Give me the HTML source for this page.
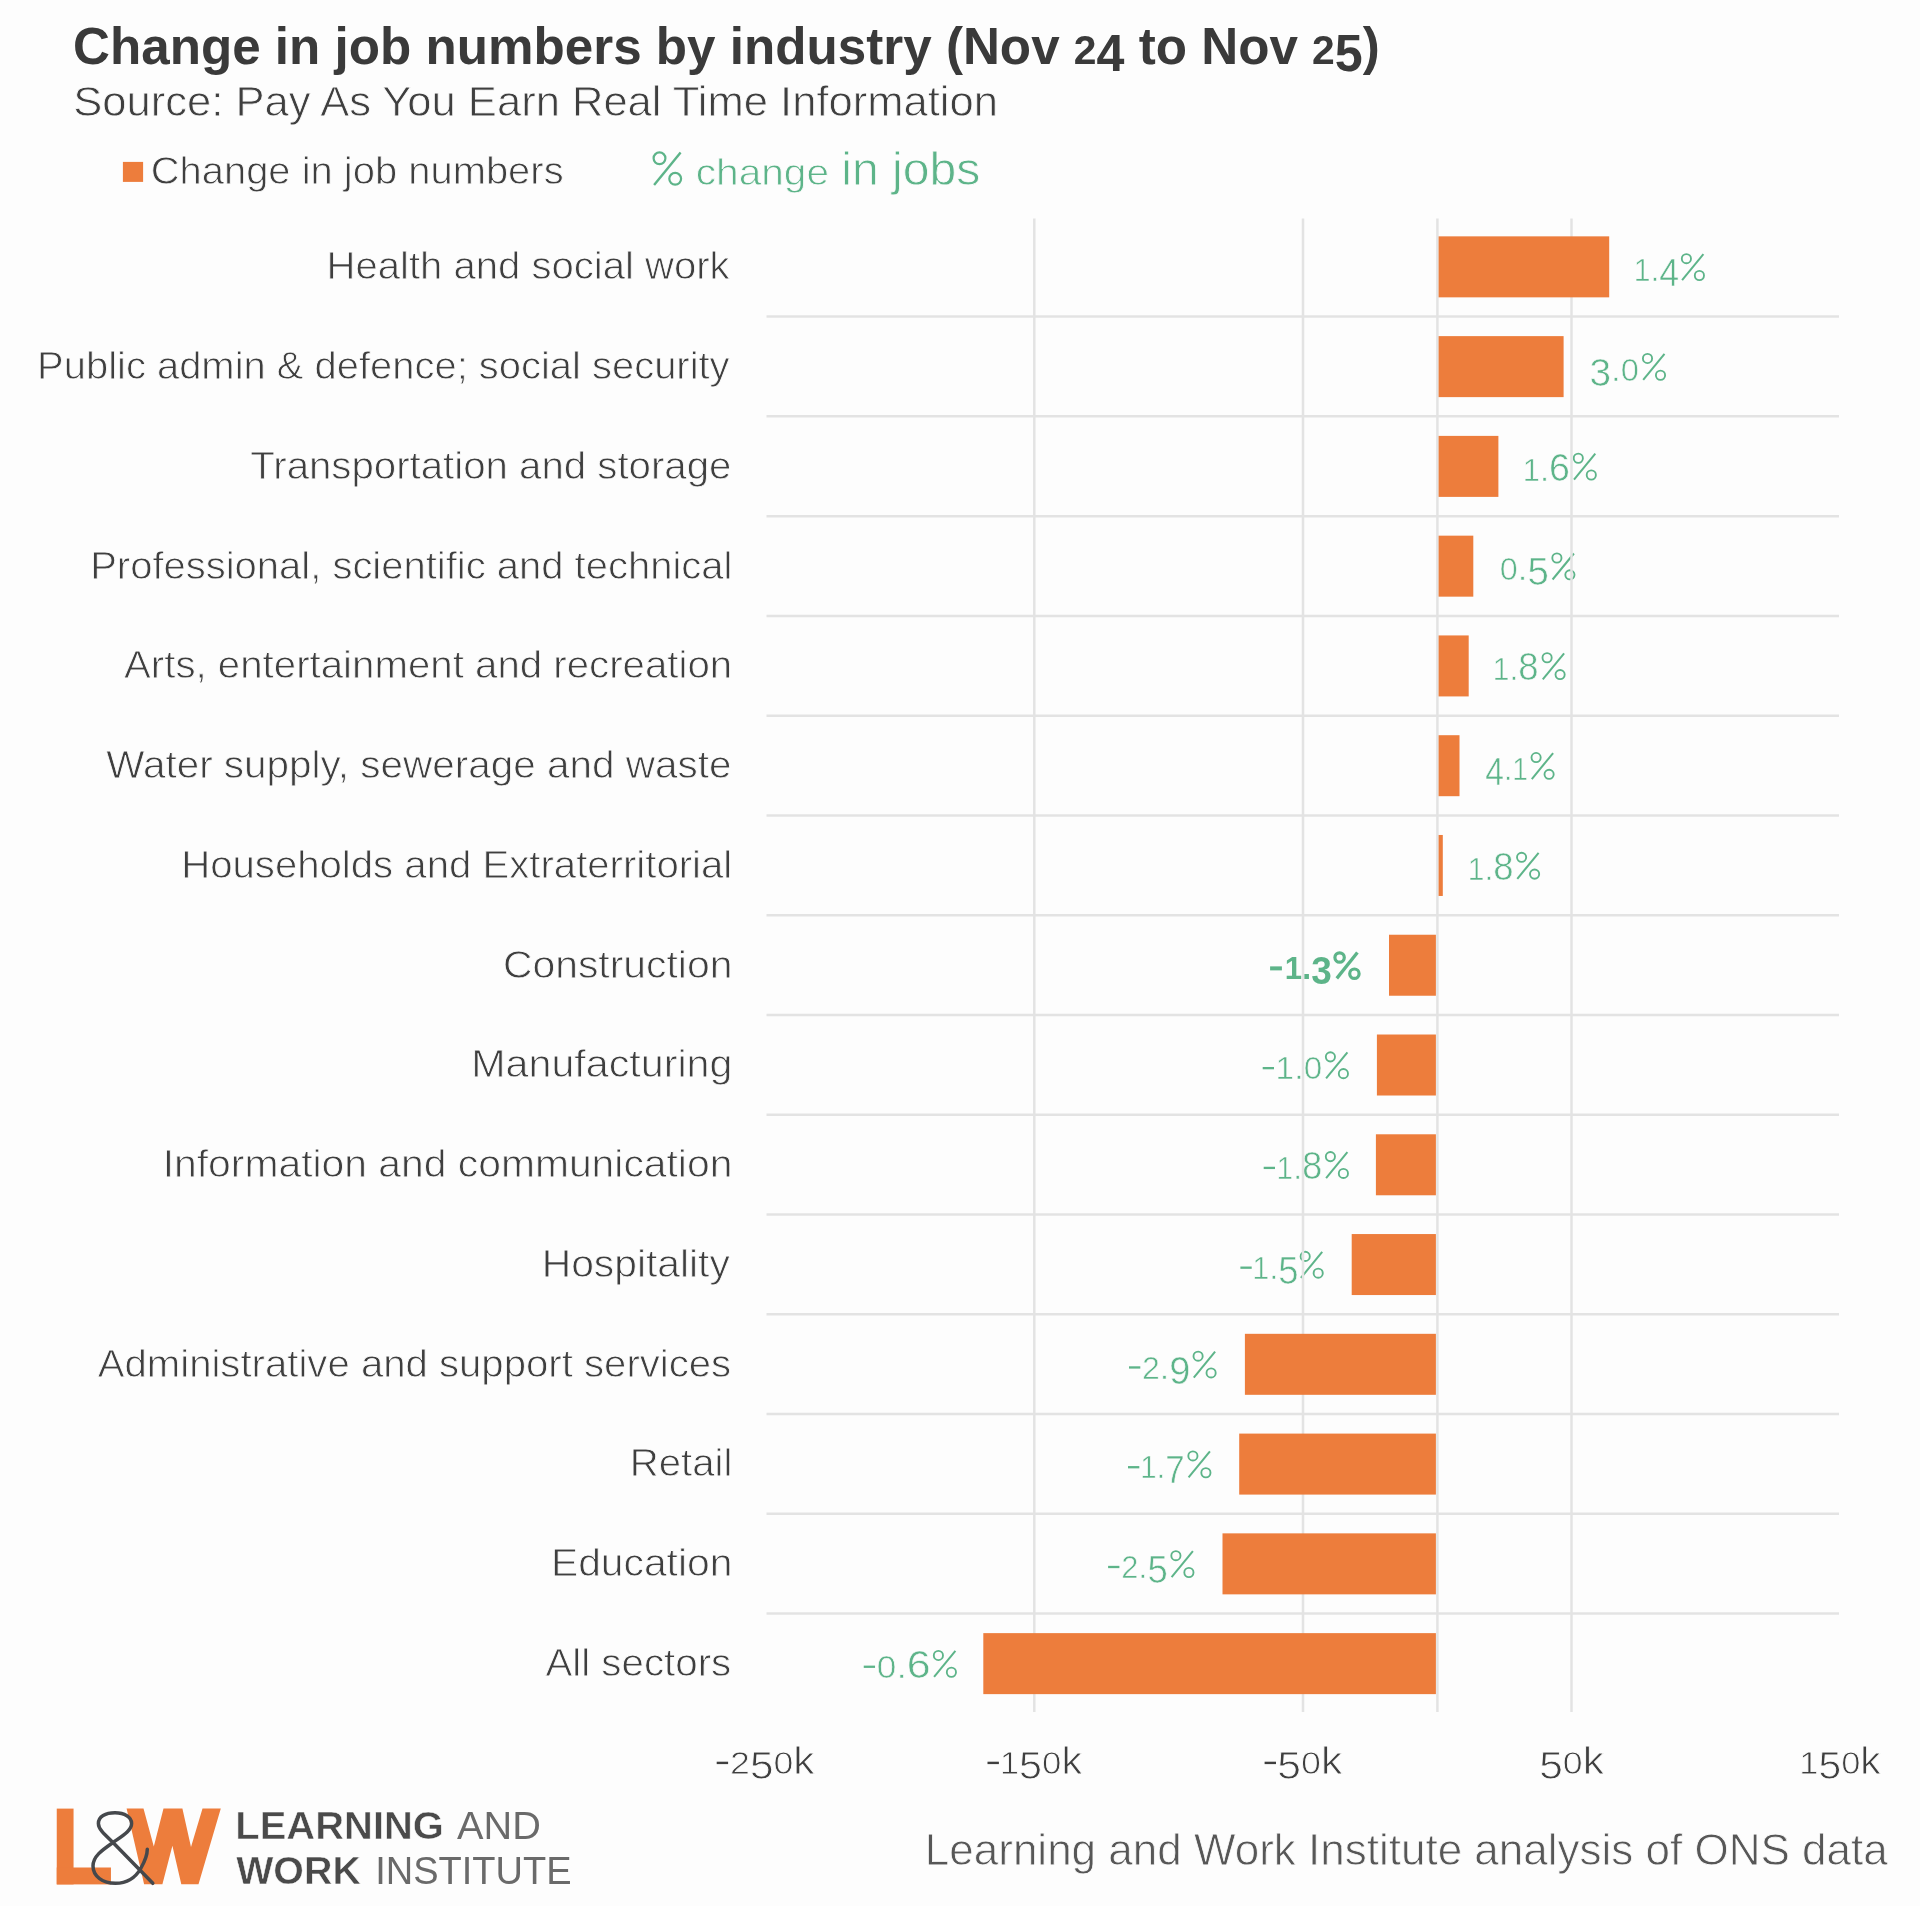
<!DOCTYPE html>
<html><head><meta charset="utf-8"><style>
html,body{margin:0;padding:0;background:#fdfdfd;}
svg{display:block;will-change:transform;}
text{font-family:"Liberation Sans", sans-serif;}
</style></head><body>
<svg width="1920" height="1906" viewBox="0 0 1920 1906">
<rect x="0" y="0" width="1920" height="1906" fill="#fdfdfd"/>
<g>
<g fill="none" stroke="#5db489"><circle cx="1686.40" cy="258.69" r="4.60" stroke-width="1.85"/><circle cx="1699.40" cy="275.49" r="4.60" stroke-width="1.85"/><line x1="1682.10" y1="280.19" x2="1703.40" y2="254.19" stroke-width="2.0"/></g>
<g fill="none" stroke="#5db489"><circle cx="1647.50" cy="358.46" r="4.60" stroke-width="1.85"/><circle cx="1660.50" cy="375.26" r="4.60" stroke-width="1.85"/><line x1="1643.20" y1="379.96" x2="1664.50" y2="353.96" stroke-width="2.0"/></g>
<g fill="none" stroke="#5db489"><circle cx="1578.30" cy="458.23" r="4.60" stroke-width="1.85"/><circle cx="1591.30" cy="475.03" r="4.60" stroke-width="1.85"/><line x1="1574.00" y1="479.73" x2="1595.30" y2="453.73" stroke-width="2.0"/></g>
<g fill="none" stroke="#5db489"><circle cx="1556.90" cy="558.00" r="4.60" stroke-width="1.85"/><circle cx="1569.90" cy="574.80" r="4.60" stroke-width="1.85"/><line x1="1552.60" y1="579.50" x2="1573.90" y2="553.50" stroke-width="2.0"/></g>
<g fill="none" stroke="#5db489"><circle cx="1547.10" cy="657.76" r="4.60" stroke-width="1.85"/><circle cx="1560.10" cy="674.57" r="4.60" stroke-width="1.85"/><line x1="1542.80" y1="679.26" x2="1564.10" y2="653.26" stroke-width="2.0"/></g>
<g fill="none" stroke="#5db489"><circle cx="1536.10" cy="757.54" r="4.60" stroke-width="1.85"/><circle cx="1549.10" cy="774.34" r="4.60" stroke-width="1.85"/><line x1="1531.80" y1="779.04" x2="1553.10" y2="753.04" stroke-width="2.0"/></g>
<g fill="none" stroke="#5db489"><circle cx="1521.60" cy="857.31" r="4.60" stroke-width="1.85"/><circle cx="1534.60" cy="874.11" r="4.60" stroke-width="1.85"/><line x1="1517.30" y1="878.81" x2="1538.60" y2="852.81" stroke-width="2.0"/></g>
<rect x="1270.10" y="966.38" width="11.8" height="4.0" fill="#5db489"/>
<g fill="none" stroke="#5db489"><circle cx="1339.60" cy="957.48" r="4.70" stroke-width="3.2"/><circle cx="1354.40" cy="973.68" r="4.70" stroke-width="3.2"/><line x1="1336.80" y1="978.38" x2="1357.40" y2="952.58" stroke-width="3.3"/></g>
<rect x="1262.70" y="1066.99" width="11.3" height="2.3" fill="#5db489"/>
<g fill="none" stroke="#5db489"><circle cx="1330.40" cy="1056.85" r="4.60" stroke-width="1.85"/><circle cx="1343.40" cy="1073.64" r="4.60" stroke-width="1.85"/><line x1="1326.10" y1="1078.35" x2="1347.40" y2="1052.35" stroke-width="2.0"/></g>
<rect x="1263.70" y="1166.76" width="11.3" height="2.3" fill="#5db489"/>
<g fill="none" stroke="#5db489"><circle cx="1330.40" cy="1156.62" r="4.60" stroke-width="1.85"/><circle cx="1343.40" cy="1173.41" r="4.60" stroke-width="1.85"/><line x1="1326.10" y1="1178.12" x2="1347.40" y2="1152.12" stroke-width="2.0"/></g>
<rect x="1240.40" y="1266.53" width="11.3" height="2.3" fill="#5db489"/>
<g fill="none" stroke="#5db489"><circle cx="1305.20" cy="1256.38" r="4.60" stroke-width="1.85"/><circle cx="1318.20" cy="1273.18" r="4.60" stroke-width="1.85"/><line x1="1300.90" y1="1277.88" x2="1322.20" y2="1251.88" stroke-width="2.0"/></g>
<rect x="1129.00" y="1366.30" width="11.3" height="2.3" fill="#5db489"/>
<g fill="none" stroke="#5db489"><circle cx="1198.10" cy="1356.15" r="4.60" stroke-width="1.85"/><circle cx="1211.10" cy="1372.95" r="4.60" stroke-width="1.85"/><line x1="1193.80" y1="1377.65" x2="1215.10" y2="1351.65" stroke-width="2.0"/></g>
<rect x="1128.00" y="1466.07" width="11.3" height="2.3" fill="#5db489"/>
<g fill="none" stroke="#5db489"><circle cx="1192.90" cy="1455.92" r="4.60" stroke-width="1.85"/><circle cx="1205.90" cy="1472.72" r="4.60" stroke-width="1.85"/><line x1="1188.60" y1="1477.42" x2="1209.90" y2="1451.42" stroke-width="2.0"/></g>
<rect x="1108.10" y="1565.84" width="11.3" height="2.3" fill="#5db489"/>
<g fill="none" stroke="#5db489"><circle cx="1175.90" cy="1555.69" r="4.60" stroke-width="1.85"/><circle cx="1188.90" cy="1572.49" r="4.60" stroke-width="1.85"/><line x1="1171.60" y1="1577.19" x2="1192.90" y2="1551.19" stroke-width="2.0"/></g>
<rect x="863.75" y="1665.61" width="11.3" height="2.3" fill="#5db489"/>
<g fill="none" stroke="#5db489"><circle cx="938.40" cy="1655.46" r="4.60" stroke-width="1.85"/><circle cx="951.40" cy="1672.26" r="4.60" stroke-width="1.85"/><line x1="934.10" y1="1676.96" x2="955.40" y2="1650.96" stroke-width="2.0"/></g>
<text id="t20" transform="translate(1633.70,281.09) scale(0.9401,1)" font-size="34" stroke="#fdfdfd" stroke-width="0.6" fill="#5db489"><tspan font-size="32.0">1</tspan><tspan font-size="34.0">.</tspan><tspan font-size="38.0" dy="5.0">4</tspan></text>
<text id="t21" transform="translate(1589.43,380.86) scale(1.0224,1)" font-size="34" stroke="#fdfdfd" stroke-width="0.6" fill="#5db489"><tspan font-size="38.0" dy="5.0">3</tspan><tspan font-size="34.0" dy="-5.0">.</tspan><tspan font-size="32.0">0</tspan></text>
<text id="t22" transform="translate(1522.87,480.63) scale(0.9639,1)" font-size="34" stroke="#fdfdfd" stroke-width="0.6" fill="#5db489"><tspan font-size="32.0">1</tspan><tspan font-size="34.0">.</tspan><tspan font-size="39.0">6</tspan></text>
<text id="t23" transform="translate(1499.85,580.39) scale(1.0126,1)" font-size="34" stroke="#fdfdfd" stroke-width="0.6" fill="#5db489"><tspan font-size="32.0">0</tspan><tspan font-size="34.0">.</tspan><tspan font-size="38.0" dy="5.0">5</tspan></text>
<text id="t24" transform="translate(1492.77,680.16) scale(0.9354,1)" font-size="34" stroke="#fdfdfd" stroke-width="0.6" fill="#5db489"><tspan font-size="32.0">1</tspan><tspan font-size="34.0">.</tspan><tspan font-size="39.0">8</tspan></text>
<text id="t25" transform="translate(1485.28,779.94) scale(0.8847,1)" font-size="34" stroke="#fdfdfd" stroke-width="0.6" fill="#5db489"><tspan font-size="38.0" dy="5.0">4</tspan><tspan font-size="34.0" dy="-5.0">.</tspan><tspan font-size="32.0">1</tspan></text>
<text id="t26" transform="translate(1467.77,879.71) scale(0.9354,1)" font-size="34" stroke="#fdfdfd" stroke-width="0.6" fill="#5db489"><tspan font-size="32.0">1</tspan><tspan font-size="34.0">.</tspan><tspan font-size="39.0">8</tspan></text>
<text id="t27" transform="translate(1284.74,979.18) scale(0.9741,1)" font-size="34" font-weight="bold" fill="#5db489"><tspan font-size="32.0">1</tspan><tspan font-size="34.0">.</tspan><tspan font-size="38.0" dy="5.0">3</tspan></text>
<text id="t28" transform="translate(1275.50,1079.24) scale(1.0400,1)" font-size="34" stroke="#fdfdfd" stroke-width="0.6" fill="#5db489"><tspan font-size="32.0">1</tspan><tspan font-size="34.0">.</tspan><tspan font-size="32.0">0</tspan></text>
<text id="t29" transform="translate(1276.55,1179.01) scale(0.9323,1)" font-size="34" stroke="#fdfdfd" stroke-width="0.6" fill="#5db489"><tspan font-size="32.0">1</tspan><tspan font-size="34.0">.</tspan><tspan font-size="39.0">8</tspan></text>
<text id="t30" transform="translate(1252.16,1278.78) scale(0.9581,1)" font-size="34" stroke="#fdfdfd" stroke-width="0.6" fill="#5db489"><tspan font-size="32.0">1</tspan><tspan font-size="34.0">.</tspan><tspan font-size="38.0" dy="5.0">5</tspan></text>
<text id="t31" transform="translate(1141.93,1378.55) scale(1.0011,1)" font-size="34" stroke="#fdfdfd" stroke-width="0.6" fill="#5db489"><tspan font-size="32.0">2</tspan><tspan font-size="34.0">.</tspan><tspan font-size="38.0" dy="5.0">9</tspan></text>
<text id="t32" transform="translate(1140.24,1478.32) scale(0.9193,1)" font-size="34" stroke="#fdfdfd" stroke-width="0.6" fill="#5db489"><tspan font-size="32.0">1</tspan><tspan font-size="34.0">.</tspan><tspan font-size="38.0" dy="5.0">7</tspan></text>
<text id="t33" transform="translate(1121.19,1578.09) scale(0.9616,1)" font-size="34" stroke="#fdfdfd" stroke-width="0.6" fill="#5db489"><tspan font-size="32.0">2</tspan><tspan font-size="34.0">.</tspan><tspan font-size="38.0" dy="5.0">5</tspan></text>
<text id="t34" transform="translate(876.83,1677.86) scale(1.1006,1)" font-size="34" stroke="#fdfdfd" stroke-width="0.6" fill="#5db489"><tspan font-size="32.0">0</tspan><tspan font-size="34.0">.</tspan><tspan font-size="39.0">6</tspan></text>
</g>
<g stroke="#e3e3e3" stroke-width="2.5">
<line x1="766.5" x2="1839" y1="316.60" y2="316.60"/>
<line x1="766.5" x2="1839" y1="416.37" y2="416.37"/>
<line x1="766.5" x2="1839" y1="516.14" y2="516.14"/>
<line x1="766.5" x2="1839" y1="615.91" y2="615.91"/>
<line x1="766.5" x2="1839" y1="715.68" y2="715.68"/>
<line x1="766.5" x2="1839" y1="815.45" y2="815.45"/>
<line x1="766.5" x2="1839" y1="915.22" y2="915.22"/>
<line x1="766.5" x2="1839" y1="1014.99" y2="1014.99"/>
<line x1="766.5" x2="1839" y1="1114.76" y2="1114.76"/>
<line x1="766.5" x2="1839" y1="1214.53" y2="1214.53"/>
<line x1="766.5" x2="1839" y1="1314.30" y2="1314.30"/>
<line x1="766.5" x2="1839" y1="1414.07" y2="1414.07"/>
<line x1="766.5" x2="1839" y1="1513.84" y2="1513.84"/>
<line x1="766.5" x2="1839" y1="1613.61" y2="1613.61"/>
<line x1="1034.3" x2="1034.3" y1="218.6" y2="1712"/>
<line x1="1303.0" x2="1303.0" y1="218.6" y2="1712"/>
<line x1="1437.4" x2="1437.4" y1="218.6" y2="1712"/>
<line x1="1571.5" x2="1571.5" y1="218.6" y2="1712"/>
</g>
<g fill="#ed7d3c">
<rect x="1438.60" y="236.35" width="170.60" height="61"/>
<rect x="1438.60" y="336.12" width="125.00" height="61"/>
<rect x="1438.60" y="435.89" width="59.80" height="61"/>
<rect x="1438.60" y="535.66" width="34.70" height="61"/>
<rect x="1438.60" y="635.43" width="30.10" height="61"/>
<rect x="1438.60" y="735.20" width="20.90" height="61"/>
<rect x="1438.60" y="834.97" width="4.20" height="61"/>
<rect x="1389.00" y="934.74" width="46.90" height="61"/>
<rect x="1376.90" y="1034.51" width="59.00" height="61"/>
<rect x="1375.90" y="1134.28" width="60.00" height="61"/>
<rect x="1351.70" y="1234.05" width="84.20" height="61"/>
<rect x="1244.90" y="1333.82" width="191.00" height="61"/>
<rect x="1239.20" y="1433.59" width="196.70" height="61"/>
<rect x="1222.50" y="1533.36" width="213.40" height="61"/>
<rect x="983.30" y="1633.13" width="452.60" height="61"/>
</g>
<rect x="122.9" y="161.9" width="20.2" height="20" fill="#ed7d3c"/>
<g>
<g fill="none" stroke="#5db489"><circle cx="659.50" cy="158.30" r="5.90" stroke-width="2.2"/><circle cx="675.20" cy="178.80" r="5.90" stroke-width="2.2"/><line x1="654.10" y1="185.00" x2="680.60" y2="152.50" stroke-width="2.4"/></g>
<rect x="716.70" y="1761.70" width="11.4" height="2.4" fill="#3f3f3f"/>
<rect x="987.50" y="1761.70" width="11.4" height="2.4" fill="#3f3f3f"/>
<rect x="1264.60" y="1761.70" width="11.4" height="2.4" fill="#3f3f3f"/>
<text id="t0" transform="translate(72.97,64.00) scale(0.9839,1)" font-size="52" font-weight="bold" fill="#3a3a3a"><tspan font-size="52.0">C</tspan><tspan font-size="52.0">h</tspan><tspan font-size="52.0">a</tspan><tspan font-size="52.0">n</tspan><tspan font-size="52.0">g</tspan><tspan font-size="52.0">e</tspan><tspan font-size="52.0"> </tspan><tspan font-size="52.0">i</tspan><tspan font-size="52.0">n</tspan><tspan font-size="52.0"> </tspan><tspan font-size="52.0">j</tspan><tspan font-size="52.0">o</tspan><tspan font-size="52.0">b</tspan><tspan font-size="52.0"> </tspan><tspan font-size="52.0">n</tspan><tspan font-size="52.0">u</tspan><tspan font-size="52.0">m</tspan><tspan font-size="52.0">b</tspan><tspan font-size="52.0">e</tspan><tspan font-size="52.0">r</tspan><tspan font-size="52.0">s</tspan><tspan font-size="52.0"> </tspan><tspan font-size="52.0">b</tspan><tspan font-size="52.0">y</tspan><tspan font-size="52.0"> </tspan><tspan font-size="52.0">i</tspan><tspan font-size="52.0">n</tspan><tspan font-size="52.0">d</tspan><tspan font-size="52.0">u</tspan><tspan font-size="52.0">s</tspan><tspan font-size="52.0">t</tspan><tspan font-size="52.0">r</tspan><tspan font-size="52.0">y</tspan><tspan font-size="52.0"> </tspan><tspan font-size="52.0">(</tspan><tspan font-size="52.0">N</tspan><tspan font-size="52.0">o</tspan><tspan font-size="52.0">v</tspan><tspan font-size="52.0"> </tspan><tspan font-size="41.5">2</tspan><tspan font-size="51.0" dy="6.7">4</tspan><tspan font-size="52.0" dy="-6.7"> </tspan><tspan font-size="52.0">t</tspan><tspan font-size="52.0">o</tspan><tspan font-size="52.0"> </tspan><tspan font-size="52.0">N</tspan><tspan font-size="52.0">o</tspan><tspan font-size="52.0">v</tspan><tspan font-size="52.0"> </tspan><tspan font-size="41.5">2</tspan><tspan font-size="51.0" dy="6.7">5</tspan><tspan font-size="52.0" dy="-6.7">)</tspan></text>
<text id="t1" transform="translate(73.25,116.20) scale(1.0131,1)" font-size="43" stroke="#fdfdfd" stroke-width="0.8" fill="#3f3f3f">Source: Pay As You Earn Real Time Information</text>
<text id="t2" transform="translate(150.70,184.40) scale(1.0514,1)" font-size="38" stroke="#fdfdfd" stroke-width="0.8" fill="#3f3f3f">Change in job numbers</text>
<text id="t3" transform="translate(695.77,185.40) scale(1.0981,1)" font-size="37" stroke="#fdfdfd" stroke-width="0.8" fill="#5db489">change</text>
<text id="t4" transform="translate(841.27,185.40) scale(1.0462,1)" font-size="46" stroke="#fdfdfd" stroke-width="0.8" fill="#5db489">in jobs</text>
<text id="t5" transform="translate(326.59,279.19) scale(1.0544,1)" font-size="38" stroke="#fdfdfd" stroke-width="0.8" fill="#3f3f3f">Health and social work</text>
<text id="t6" transform="translate(37.10,378.96) scale(1.0513,1)" font-size="38" stroke="#fdfdfd" stroke-width="0.8" fill="#3f3f3f">Public admin &amp; defence; social security</text>
<text id="t7" transform="translate(250.20,478.73) scale(1.0582,1)" font-size="38" stroke="#fdfdfd" stroke-width="0.8" fill="#3f3f3f">Transportation and storage</text>
<text id="t8" transform="translate(90.20,578.50) scale(1.0520,1)" font-size="38" stroke="#fdfdfd" stroke-width="0.8" fill="#3f3f3f">Professional, scientific and technical</text>
<text id="t9" transform="translate(124.00,678.26) scale(1.0589,1)" font-size="38" stroke="#fdfdfd" stroke-width="0.8" fill="#3f3f3f">Arts, entertainment and recreation</text>
<text id="t10" transform="translate(106.20,778.04) scale(1.0650,1)" font-size="38" stroke="#fdfdfd" stroke-width="0.8" fill="#3f3f3f">Water supply, sewerage and waste</text>
<text id="t11" transform="translate(181.19,877.81) scale(1.0566,1)" font-size="38" stroke="#fdfdfd" stroke-width="0.8" fill="#3f3f3f">Households and Extraterritorial</text>
<text id="t12" transform="translate(502.96,977.58) scale(1.0756,1)" font-size="38" stroke="#fdfdfd" stroke-width="0.8" fill="#3f3f3f">Construction</text>
<text id="t13" transform="translate(471.30,1077.35) scale(1.0844,1)" font-size="38" stroke="#fdfdfd" stroke-width="0.8" fill="#3f3f3f">Manufacturing</text>
<text id="t14" transform="translate(162.73,1177.12) scale(1.0745,1)" font-size="38" stroke="#fdfdfd" stroke-width="0.8" fill="#3f3f3f">Information and communication</text>
<text id="t15" transform="translate(541.74,1276.88) scale(1.0735,1)" font-size="38" stroke="#fdfdfd" stroke-width="0.8" fill="#3f3f3f">Hospitality</text>
<text id="t16" transform="translate(97.70,1376.65) scale(1.0563,1)" font-size="38" stroke="#fdfdfd" stroke-width="0.8" fill="#3f3f3f">Administrative and support services</text>
<text id="t17" transform="translate(629.79,1476.42) scale(1.0561,1)" font-size="38" stroke="#fdfdfd" stroke-width="0.8" fill="#3f3f3f">Retail</text>
<text id="t18" transform="translate(550.94,1576.19) scale(1.0736,1)" font-size="38" stroke="#fdfdfd" stroke-width="0.8" fill="#3f3f3f">Education</text>
<text id="t19" transform="translate(545.40,1675.96) scale(1.0607,1)" font-size="38" stroke="#fdfdfd" stroke-width="0.8" fill="#3f3f3f">All sectors</text>
<text id="t35" transform="translate(730.02,1774.15) scale(1.1157,1)" font-size="38" stroke="#fdfdfd" stroke-width="0.8" fill="#3f3f3f"><tspan font-size="32.0">2</tspan><tspan font-size="38.0" dy="5.0">5</tspan><tspan font-size="32.0" dy="-5.0">0</tspan><tspan font-size="38.0">k</tspan></text>
<text id="t36" transform="translate(999.72,1774.15) scale(1.0873,1)" font-size="38" stroke="#fdfdfd" stroke-width="0.8" fill="#3f3f3f"><tspan font-size="32.0">1</tspan><tspan font-size="38.0" dy="5.0">5</tspan><tspan font-size="32.0" dy="-5.0">0</tspan><tspan font-size="38.0">k</tspan></text>
<text id="t37" transform="translate(1277.19,1774.15) scale(1.1223,1)" font-size="38" stroke="#fdfdfd" stroke-width="0.8" fill="#3f3f3f"><tspan font-size="38.0" dy="5.0">5</tspan><tspan font-size="32.0" dy="-5.0">0</tspan><tspan font-size="38.0">k</tspan></text>
<text id="t38" transform="translate(1539.19,1774.15) scale(1.1187,1)" font-size="38" stroke="#fdfdfd" stroke-width="0.8" fill="#3f3f3f"><tspan font-size="38.0" dy="5.0">5</tspan><tspan font-size="32.0" dy="-5.0">0</tspan><tspan font-size="38.0">k</tspan></text>
<text id="t39" transform="translate(1799.26,1774.15) scale(1.0762,1)" font-size="38" stroke="#fdfdfd" stroke-width="0.8" fill="#3f3f3f"><tspan font-size="32.0">1</tspan><tspan font-size="38.0" dy="5.0">5</tspan><tspan font-size="32.0" dy="-5.0">0</tspan><tspan font-size="38.0">k</tspan></text>
<text id="t40" transform="translate(924.83,1865.00) scale(1.0001,1)" font-size="44" stroke="#fdfdfd" stroke-width="0.8" fill="#575757">Learning and Work Institute analysis of ONS data</text>
<text id="t41" transform="translate(235.35,1839.45) scale(1.0512,1)" font-size="38" font-weight="bold" stroke="#fdfdfd" stroke-width="0.5" fill="#4a4a4a">LEARNING</text>
<text id="t42" transform="translate(457.00,1839.20) scale(1.0454,1)" font-size="38" fill="#6a6a6a">AND</text>
<text id="t43" transform="translate(236.15,1884.45) scale(1.0098,1)" font-size="39" font-weight="bold" stroke="#fdfdfd" stroke-width="0.5" fill="#4a4a4a">WORK</text>
<text id="t44" transform="translate(375.18,1884.20) scale(0.9748,1)" font-size="39" fill="#6a6a6a">INSTITUTE</text>
</g>

<rect x="56.75" y="1808.6" width="16.8" height="75.8" fill="#ed7d3c"/>
<rect x="56.75" y="1867.5" width="54.2" height="16.9" fill="#ed7d3c"/>
<polygon fill="#ed7d3c" points="126.6,1808.6 143.5,1808.6 153.8,1846.4 163.5,1808.6 182.4,1808.6 191,1847 202.5,1808.6 220.8,1808.6 198.5,1884.2 181.3,1884.2 172.4,1845.8 162.4,1884.2 144.1,1884.2"/>
<path fill="none" stroke="#45484c" stroke-width="3.5" stroke-linecap="round" stroke-linejoin="round" d="M152.8,1883.3 L113,1842.5 C104,1834 98.4,1829 98.4,1823.5 C98.4,1816.5 105.5,1812.8 115,1812.8 C124.5,1812.8 131.6,1817 131.6,1823.5 C131.6,1830.5 123,1835.5 113,1842.5 C103,1849.5 93,1856 93,1866 C93,1876.5 103,1883.3 115.4,1883.3 C127,1883.3 136,1877 141,1868 C145,1861 147.3,1855 147.3,1849.3"/>

</svg>
</body></html>
